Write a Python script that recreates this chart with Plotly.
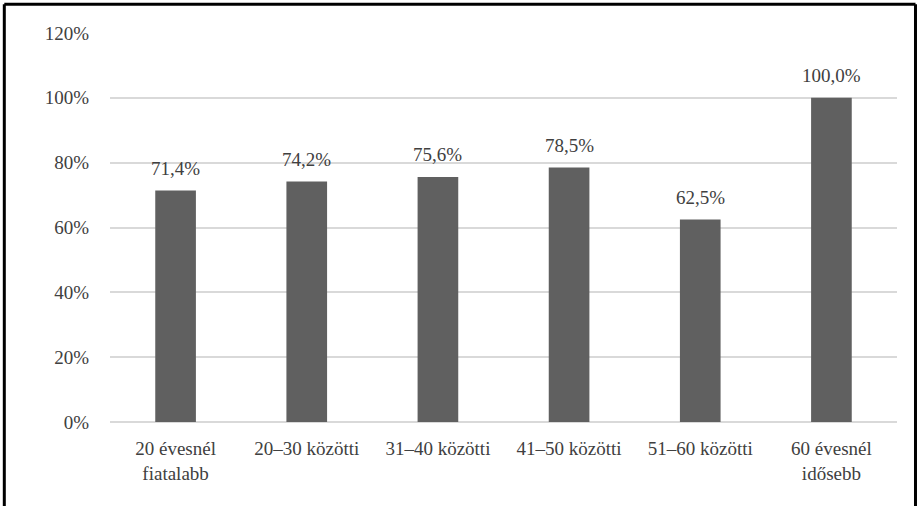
import plotly.graph_objects as go

categories = ["20 évesnél<br>fiatalabb", "20–30 közötti", "31–40 közötti",
              "41–50 közötti", "51–60 közötti", "60 évesnél<br>idősebb"]
values = [71.4, 74.2, 75.6, 78.5, 62.5, 100.0]
labels = ["71,4%", "74,2%", "75,6%", "78,5%", "62,5%", "100,0%"]
y_ticks = [0, 20, 40, 60, 80, 100, 120]
y_ticktext = ["0%", "20%", "40%", "60%", "80%", "100%", "120%"]

FONT = "Liberation Serif"
TXT = "#404040"

fig = go.Figure()
fig.add_trace(go.Bar(
    x=categories, y=values,
    marker=dict(color="#606060", line=dict(width=0)),
    width=0.31, hoverinfo="skip",
))

for c, v, t in zip(categories, values, labels):
    fig.add_annotation(x=c, y=v, text=t, showarrow=False, yanchor="middle",
                       yshift=22, font=dict(family=FONT, size=19, color=TXT))

fig.update_layout(
    width=918, height=506,
    margin=dict(l=110, r=21, t=33, b=84),
    paper_bgcolor="white", plot_bgcolor="white",
    showlegend=False,
    font=dict(family=FONT, size=19, color=TXT),
    xaxis=dict(showgrid=False, showline=False, ticks="", automargin=False,
               tickfont=dict(family=FONT, size=19, color=TXT),
               ticklabelstandoff=13),
    yaxis=dict(range=[0, 120], tickvals=y_ticks, ticktext=y_ticktext,
               automargin=False,
               showgrid=True, gridcolor="#d9d9d9", gridwidth=1.5,
               zeroline=True, zerolinecolor="#d9d9d9", zerolinewidth=1.5,
               showline=False, ticks="",
               tickfont=dict(family=FONT, size=19, color=TXT),
               ticklabelstandoff=20),
    shapes=[
        dict(type="line", xref="paper", yref="paper", x0=-0.1343, x1=-0.1343, y0=-0.3, y1=1.074,
             line=dict(color="black", width=3)),
        dict(type="line", xref="paper", yref="paper", x0=-0.1343, x1=1.0235, y0=1.074, y1=1.074,
             line=dict(color="black", width=3)),
        dict(type="line", xref="paper", yref="paper", x0=1.0235, x1=1.0235, y0=-0.3, y1=1.074,
             line=dict(color="black", width=3)),
    ],
)

fig.write_html("out.html", config={"displayModeBar": False},
               post_script="document.body.style.margin='0';document.body.style.overflow='hidden';")
